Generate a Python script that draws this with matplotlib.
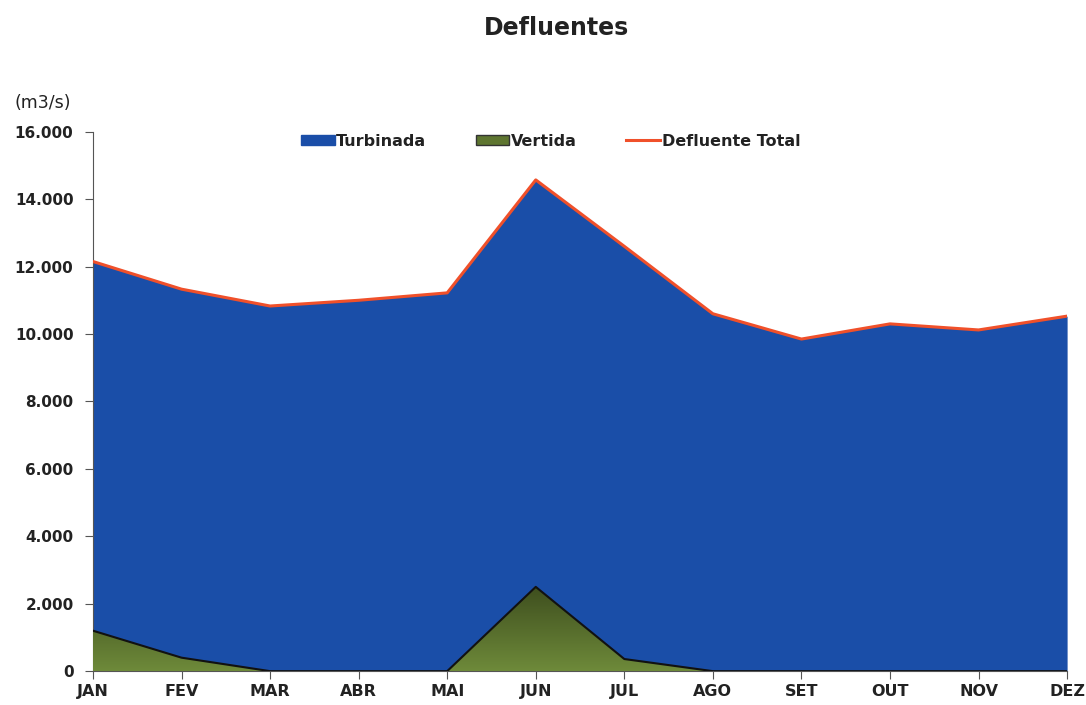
import matplotlib
matplotlib.use("Agg")
import matplotlib.pyplot as plt
import numpy as np
from matplotlib.ticker import FuncFormatter
from matplotlib.lines import Line2D
from matplotlib.patches import Patch, Polygon
from matplotlib.colors import LinearSegmentedColormap

months = ["JAN", "FEV", "MAR", "ABR", "MAI", "JUN", "JUL", "AGO", "SET", "OUT", "NOV", "DEZ"]
defluente_total = [12150, 11330, 10830, 11000, 11220, 14570, 12600, 10600, 9850, 10300, 10120, 10530]
vertida = [1200, 400, 0, 0, 0, 2500, 360, 0, 0, 0, 0, 0]
turbinada = [t - v for t, v in zip(defluente_total, vertida)]

blue = "#1A4EA8"
green = "#5E7530"
red = "#F0502A"
txt = "#222222"

plt.rcParams['font.family'] = ['DejaVu Sans']
fig = plt.figure(figsize=(10.86, 7.05), dpi=100)
ax = fig.add_axes([0.0856, 0.048, 0.897, 0.7652])

x = np.arange(len(months))
v = np.array(vertida, dtype=float)
tb = np.array(turbinada, dtype=float)
tot = v + tb

ax.fill_between(x, v, tot, color=blue, linewidth=0, zorder=2)
verts = np.vstack([np.column_stack([x, v]), [[x[-1], 0], [x[0], 0]]])
poly = Polygon(verts, closed=True, facecolor=green, edgecolor="none", zorder=3)
ax.add_patch(poly)
grad = np.linspace(0, 1, 256).reshape(-1, 1)
cmap = LinearSegmentedColormap.from_list("g", ["#6E8A3A", "#3E4E1E"])
im = ax.imshow(grad, cmap=cmap, aspect="auto", extent=[0, 11, 0, max(v)], origin="lower", zorder=3)
im.set_clip_path(poly)
ax.plot(x, v, color="#111111", linewidth=1.5, zorder=4)
ax.plot(x, tot, color=red, linewidth=2.2, zorder=5)

ax.set_xlim(0, 11)
ax.set_ylim(0, 16000)
ax.set_xticks(x)
ax.set_xticklabels(months)
ax.set_yticks(np.arange(0, 16001, 2000))
ax.yaxis.set_major_formatter(FuncFormatter(lambda val, p: f"{int(val):,}".replace(",", ".")))
for lab in ax.get_xticklabels() + ax.get_yticklabels():
    lab.set_fontweight("bold")
    lab.set_color(txt)
ax.tick_params(axis="x", labelsize=11.5, length=6, direction="out", color="#555555", pad=3)
ax.tick_params(axis="y", labelsize=11, length=6, direction="out", color="#555555", pad=8)
for s in ["top", "right"]:
    ax.spines[s].set_visible(False)
ax.spines["left"].set_color("#555555")
ax.spines["bottom"].set_color("#555555")

fig.text(0.512, 0.96, "Defluentes", ha="center", va="center", fontsize=17, fontweight="bold", color=txt)
fig.text(0.013, 0.854, "(m3/s)", ha="left", va="center", fontsize=12.5, color=txt)

handles = [Patch(facecolor=blue, edgecolor=blue), Patch(facecolor=green, edgecolor="#333333"),
           Line2D([0], [0], color=red, lw=2.2)]
leg = fig.legend(handles, ["Turbinada", "Vertida", "Defluente Total"], loc="center",
                 bbox_to_anchor=(0.507, 0.8), ncol=3, frameon=False, fontsize=11.5,
                 handlelength=2.1, handleheight=0.6, handletextpad=0.1, columnspacing=3.1)
for t in leg.get_texts():
    t.set_fontweight("bold")
    t.set_color(txt)

fig.savefig("out.png", dpi=100)
